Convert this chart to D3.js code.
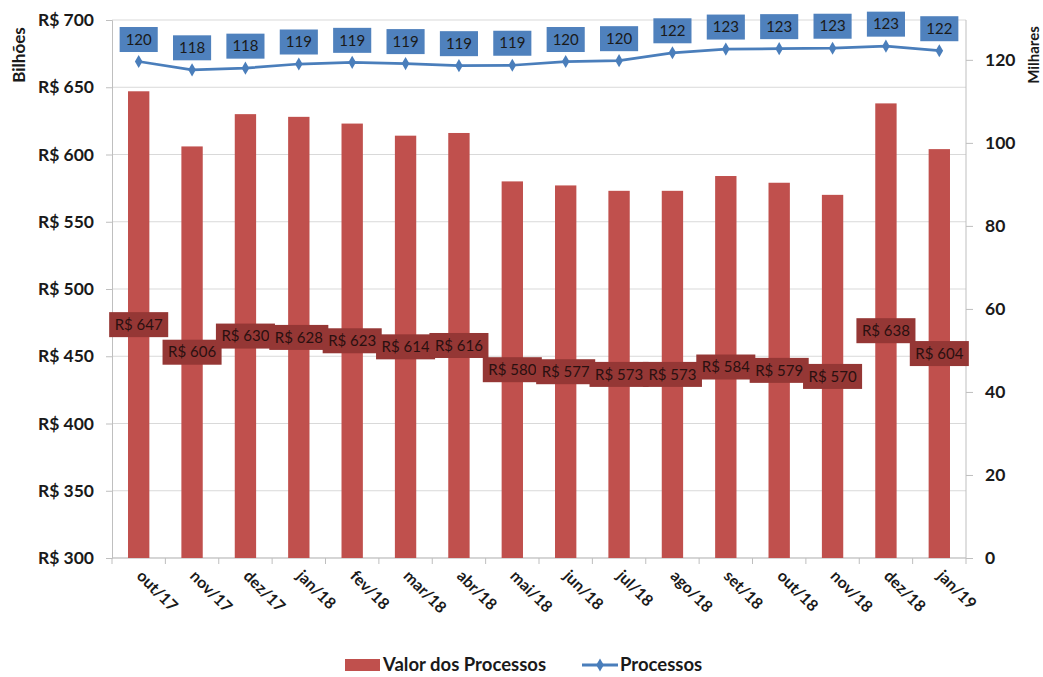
<!DOCTYPE html>
<html>
<head>
<meta charset="utf-8">
<script src="https://cdn.jsdelivr.net/npm/d3@7"></script>
<style>
  html, body { margin: 0; padding: 0; background: #fff; }
  svg { display: block; font-family: Lato, "Open Sans", sans-serif; }
</style>
</head>
<body>
<svg id="chart" width="1043" height="677"></svg>
<script>
// Months on the category axis
const months = ["out/17","nov/17","dez/17","jan/18","fev/18","mar/18","abr/18","mai/18",
                "jun/18","jul/18","ago/18","set/18","out/18","nov/18","dez/18","jan/19"];
// Value of the cases, R$ billions (left axis)
const valores = [647, 606, 630, 628, 623, 614, 616, 580, 577, 573, 573, 584, 579, 570, 638, 604];
// Number of cases, thousands (right axis)
const processos = [119.6, 117.6, 118.0, 119.0, 119.4, 119.1, 118.6, 118.7, 119.6, 119.8,
                   121.7, 122.6, 122.7, 122.8, 123.3, 122.2];
// Axis ticks
const leftTicks = [300, 350, 400, 450, 500, 550, 600, 650, 700];
const rightTicks = [0, 20, 40, 60, 80, 100, 120];

const svg = d3.select("#chart");
const plotL = 112, plotR = 966, plotT = 20, plotB = 558;

const x = d3.scaleBand().domain(months).range([plotL, plotR]).paddingInner(0.6).paddingOuter(0.3);
const yL = d3.scaleLinear().domain([300, 700]).range([plotB, plotT]);
const yR = d3.scaleLinear().domain([0, 129.6]).range([plotB, plotT]);

const barColor = "#c0504d", barLabel = "#953735";
const lineColor = "#4a7ebb", lineLabel = "#4f81bd";
const axisColor = "#bfbfbf", gridColor = "#d9d9d9";

// Horizontal gridlines
svg.append("g").selectAll("line").data(leftTicks).join("line")
  .attr("x1", plotL).attr("x2", plotR)
  .attr("y1", d => yL(d)).attr("y2", d => yL(d))
  .attr("stroke", gridColor).attr("stroke-width", 1);

// Left axis
const gL = svg.append("g").attr("transform", `translate(${plotL},0)`)
  .call(d3.axisLeft(yL).tickValues(leftTicks).tickSize(6).tickPadding(12).tickFormat(d => "R$ " + d));
gL.select(".domain").attr("stroke", axisColor);
gL.selectAll(".tick line").attr("stroke", axisColor);
gL.selectAll("text").attr("font-size", 17.5).attr("font-weight", "bold").attr("fill", "#1a1a1a")
  .attr("font-family", "Lato, sans-serif");

// Right axis
const gR = svg.append("g").attr("transform", `translate(${plotR},0)`)
  .call(d3.axisRight(yR).tickValues(rightTicks).tickSize(7).tickPadding(12));
gR.select(".domain").attr("stroke", axisColor).attr("d", `M0,${plotT}V${plotB}`);
gR.selectAll(".tick line").attr("stroke", axisColor);
gR.selectAll("text").attr("font-size", 17.5).attr("font-weight", "bold").attr("fill", "#1a1a1a")
  .attr("font-family", "Lato, sans-serif");

// Bottom axis with tick marks between categories
svg.append("line").attr("x1", plotL).attr("x2", plotR).attr("y1", plotB).attr("y2", plotB)
  .attr("stroke", axisColor);
const bounds = months.map((m, i) => i === 0 ? plotL : x(m) - x.step() * x.paddingInner() / 2);
bounds.push(plotR);
svg.append("g").selectAll("line").data(bounds).join("line")
  .attr("x1", d => d).attr("x2", d => d).attr("y1", plotB).attr("y2", plotB + 6)
  .attr("stroke", axisColor);

// Rotated month labels
svg.append("g").selectAll("text").data(months).join("text")
  .attr("transform", d => `translate(${x(d) + x.bandwidth() / 2 - 3},${plotB + 19}) rotate(45)`)
  .attr("font-size", 16).attr("font-weight", "bold").attr("fill", "#1a1a1a")
  .text(d => d);

// Bars
svg.append("g").selectAll("rect").data(valores).join("rect")
  .attr("x", (d, i) => x(months[i]))
  .attr("width", x.bandwidth())
  .attr("y", d => yL(d))
  .attr("height", d => plotB - yL(d))
  .attr("fill", barColor);

// Bar value labels, centred in each bar
const bl = svg.append("g").selectAll("g").data(valores).join("g")
  .attr("transform", (d, i) => `translate(${x(months[i]) + x.bandwidth() / 2},${(yL(d) + plotB) / 2})`);
bl.append("rect").attr("fill", barLabel);
bl.append("text").attr("text-anchor", "middle").attr("dy", "0.35em")
  .attr("font-size", 15).attr("fill", "#2a1010").text(d => "R$ " + d);
bl.each(function() {
  const g = d3.select(this);
  const w = g.select("text").node().getComputedTextLength() + 11;
  g.select("rect").attr("x", -w / 2).attr("y", -12.5).attr("width", w).attr("height", 25);
});

// Line series
const pts = processos.map((v, i) => [x(months[i]) + x.bandwidth() / 2, yR(v)]);
svg.append("path").attr("d", d3.line()(pts))
  .attr("fill", "none").attr("stroke", lineColor).attr("stroke-width", 2.75)
  .attr("stroke-linejoin", "round");
const diamond = d3.symbol().type(d3.symbolDiamond).size(50);
svg.append("g").selectAll("path").data(pts).join("path")
  .attr("transform", d => `translate(${d[0]},${d[1]})`)
  .attr("d", diamond).attr("fill", lineColor);

// Line value labels
const ll = svg.append("g").selectAll("g").data(processos).join("g")
  .attr("transform", (d, i) => `translate(${pts[i][0]},${pts[i][1] - 22})`);
ll.append("rect").attr("fill", lineLabel);
ll.append("text").attr("text-anchor", "middle").attr("dy", "0.35em")
  .attr("font-size", 15).attr("fill", "#1a1a1a").text(d => Math.round(d));
ll.each(function() {
  const g = d3.select(this);
  const w = g.select("text").node().getComputedTextLength() + 12;
  g.select("rect").attr("x", -w / 2).attr("y", -12.5).attr("width", w).attr("height", 25);
});

// Axis titles
svg.append("text").attr("transform", "translate(25,55) rotate(-90)")
  .attr("text-anchor", "middle").attr("font-size", 17).attr("font-weight", "bold")
  .attr("fill", "#1a1a1a").text("Bilhões");
svg.append("text").attr("transform", "translate(1039,55) rotate(-90)")
  .attr("text-anchor", "middle").attr("font-size", 15).attr("font-weight", "bold")
  .attr("fill", "#1a1a1a").text("Milhares");

// Legend
const lg = svg.append("g");
lg.append("rect").attr("x", 345).attr("y", 659).attr("width", 35).attr("height", 12).attr("fill", barColor);
lg.append("text").attr("x", 383).attr("y", 671).attr("font-size", 18.5).attr("font-weight", "bold")
  .attr("fill", "#1a1a1a").text("Valor dos Processos");
lg.append("line").attr("x1", 582).attr("x2", 618).attr("y1", 665).attr("y2", 665)
  .attr("stroke", lineColor).attr("stroke-width", 3);
lg.append("path").attr("transform", "translate(600,665)").attr("d", diamond).attr("fill", lineColor);
lg.append("text").attr("x", 620).attr("y", 671).attr("font-size", 18.5).attr("font-weight", "bold")
  .attr("fill", "#1a1a1a").text("Processos");
</script>
</body>
</html>
